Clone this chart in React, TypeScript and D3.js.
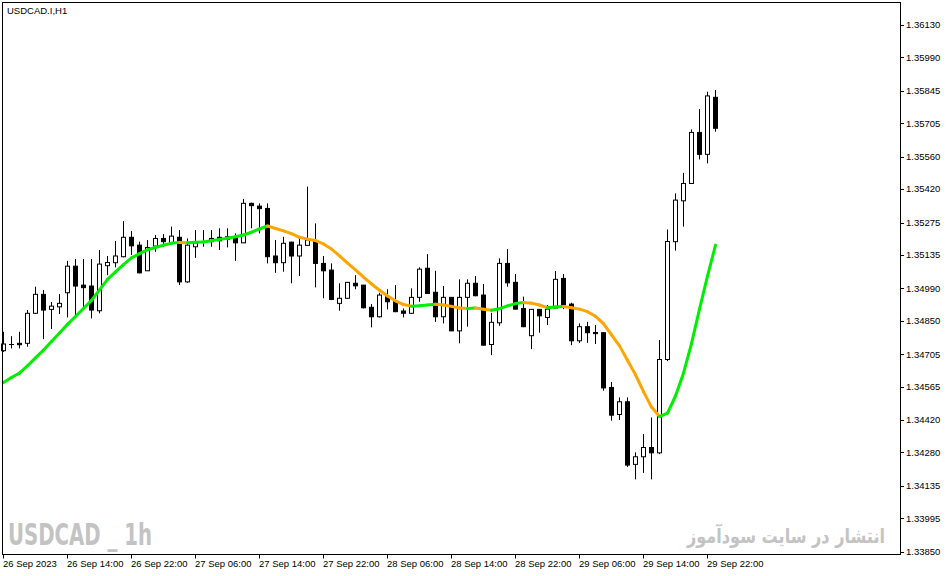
import React from "react";
import * as d3 from "d3";

const symbolLabel = "USDCAD.I,H1";
const watermarkLeft = "USDCAD _ 1h";
const watermarkRight = "انتشار در سایت سودآموز";

const opens = [
  1.34720, 1.34747, 1.34752, 1.34752, 1.34882, 1.34964, 1.34899, 1.34910, 1.34971, 1.35086,
  1.35004, 1.35000, 1.34893, 1.35088, 1.35101, 1.35127, 1.35211, 1.35177, 1.35066, 1.35173,
  1.35206, 1.35187, 1.35211, 1.35018, 1.35170, 1.35195, 1.35192, 1.35211, 1.35213, 1.35213,
  1.35187, 1.35358, 1.35346, 1.35336, 1.35130, 1.35101, 1.35190, 1.35130, 1.35176, 1.35195,
  1.35098, 1.35069, 1.34925, 1.34947, 1.35012, 1.35004, 1.34908, 1.34867, 1.34954, 1.34932,
  1.34892, 1.34882, 1.34951, 1.35077, 1.34973, 1.34867, 1.34951, 1.34806, 1.34951, 1.35012,
  1.34961, 1.34747, 1.34841, 1.35098, 1.35016, 1.34903, 1.34785, 1.34899, 1.34864, 1.34905,
  1.35033, 1.34922, 1.34763, 1.34824, 1.34799, 1.34798, 1.34561, 1.34444, 1.34499, 1.34228,
  1.34261, 1.34301, 1.34278, 1.34682, 1.35192, 1.35369, 1.35444, 1.35665, 1.35570, 1.35817,
];
const highs = [
  1.34802, 1.34783, 1.34802, 1.34896, 1.34997, 1.34983, 1.34931, 1.34965, 1.35109, 1.35117,
  1.35117, 1.35117, 1.35156, 1.35130, 1.35195, 1.35281, 1.35238, 1.35192, 1.35199, 1.35221,
  1.35225, 1.35257, 1.35242, 1.35206, 1.35242, 1.35242, 1.35242, 1.35250, 1.35250, 1.35228,
  1.35377, 1.35361, 1.35358, 1.35358, 1.35199, 1.35213, 1.35192, 1.35213, 1.35430, 1.35271,
  1.35130, 1.35098, 1.35012, 1.35017, 1.35047, 1.35005, 1.34922, 1.34971, 1.34986, 1.35004,
  1.34903, 1.34990, 1.35081, 1.35138, 1.35066, 1.35000, 1.34952, 1.35029, 1.35029, 1.35043,
  1.35009, 1.34884, 1.35120, 1.35160, 1.35052, 1.34954, 1.34900, 1.34900, 1.34918, 1.35065,
  1.35052, 1.34928, 1.34838, 1.34845, 1.34831, 1.34799, 1.34585, 1.34518, 1.34518, 1.34280,
  1.34359, 1.34431, 1.34766, 1.35245, 1.35401, 1.35490, 1.35678, 1.35766, 1.35841, 1.35849,
];
const lows = [
  1.34715, 1.34730, 1.34730, 1.34737, 1.34879, 1.34770, 1.34814, 1.34879, 1.34864, 1.34864,
  1.34899, 1.34860, 1.34882, 1.35047, 1.35081, 1.35124, 1.35134, 1.35055, 1.35065, 1.35148,
  1.35170, 1.35185, 1.35004, 1.35014, 1.35122, 1.35170, 1.35170, 1.35156, 1.35167, 1.35109,
  1.35186, 1.35250, 1.35228, 1.35098, 1.35057, 1.35062, 1.35012, 1.35043, 1.35174, 1.34994,
  1.34947, 1.34939, 1.34893, 1.34945, 1.34986, 1.34903, 1.34821, 1.34864, 1.34899, 1.34887,
  1.34864, 1.34879, 1.34932, 1.34966, 1.34845, 1.34838, 1.34805, 1.34752, 1.34824, 1.34956,
  1.34742, 1.34701, 1.34828, 1.34997, 1.34899, 1.34822, 1.34727, 1.34798, 1.34831, 1.34903,
  1.34900, 1.34744, 1.34754, 1.34754, 1.34749, 1.34547, 1.34417, 1.34420, 1.34217, 1.34163,
  1.34191, 1.34163, 1.34272, 1.34675, 1.35153, 1.35257, 1.35442, 1.35548, 1.35531, 1.35668,
];
const closes = [
  1.34749, 1.34748, 1.34746, 1.34882, 1.34964, 1.34896, 1.34913, 1.34925, 1.35086, 1.35000,
  1.34993, 1.34896, 1.35095, 1.35102, 1.35130, 1.35211, 1.35174, 1.35057, 1.35167, 1.35206,
  1.35192, 1.35216, 1.35018, 1.35177, 1.35187, 1.35194, 1.35206, 1.35196, 1.35202, 1.35187,
  1.35358, 1.35348, 1.35335, 1.35127, 1.35101, 1.35185, 1.35130, 1.35177, 1.35199, 1.35098,
  1.35066, 1.34942, 1.34947, 1.35016, 1.35001, 1.34906, 1.34867, 1.34961, 1.34932, 1.34889,
  1.34882, 1.34951, 1.35073, 1.34968, 1.34867, 1.34951, 1.34806, 1.34951, 1.35012, 1.34958,
  1.34744, 1.34843, 1.35098, 1.35014, 1.34900, 1.34824, 1.34899, 1.34871, 1.34900, 1.35029,
  1.34918, 1.34763, 1.34824, 1.34798, 1.34794, 1.34559, 1.34441, 1.34499, 1.34225, 1.34261,
  1.34301, 1.34278, 1.34682, 1.35193, 1.35372, 1.35444, 1.35665, 1.35570, 1.35823, 1.35683,
];
const movingAverage = [
  1.34582, 1.34604, 1.34623, 1.34655, 1.34689, 1.34723, 1.34760, 1.34797, 1.34834, 1.34868,
  1.34903, 1.34938, 1.34983, 1.35029, 1.35061, 1.35093, 1.35122, 1.35140, 1.35157, 1.35167,
  1.35177, 1.35185, 1.351890, 1.351877, 1.351895, 1.35191, 1.35196, 1.35202, 1.35207, 1.35213,
  1.35221, 1.35233, 1.35247, 1.35260, 1.35249, 1.35239, 1.35227, 1.35211, 1.35203, 1.35197,
  1.35182, 1.35160, 1.35131, 1.35099, 1.35070, 1.35039, 1.35009, 1.34982, 1.34957, 1.34936,
  1.34920, 1.34913, 1.34915, 1.34918, 1.34921, 1.34918, 1.34912, 1.34905, 1.34903, 1.34905,
  1.34900, 1.34895, 1.34902, 1.34914, 1.34924, 1.34929, 1.34926, 1.34918, 1.34906, 1.34909,
  1.34911, 1.34906, 1.34900, 1.34889, 1.34869, 1.34837, 1.34789, 1.34741, 1.34679, 1.34616,
  1.34543, 1.34476, 1.34435, 1.34450, 1.34524, 1.34623, 1.34751, 1.34900, 1.35043, 1.35177,
];

const priceTicks = [
  1.36130, 1.35990, 1.35845, 1.35705, 1.35560, 1.35420, 1.35275, 1.35135, 1.34990,
  1.34850, 1.34705, 1.34565, 1.34420, 1.34280, 1.34135, 1.33995, 1.33850,
];
const timeTickBars = [0, 8, 16, 24, 32, 40, 48, 56, 64, 72, 80, 88];
const timeTickLabels = [
  "26 Sep 2023", "26 Sep 14:00", "26 Sep 22:00", "27 Sep 06:00", "27 Sep 14:00",
  "27 Sep 22:00", "28 Sep 06:00", "28 Sep 14:00", "28 Sep 22:00", "29 Sep 06:00",
  "29 Sep 14:00", "29 Sep 22:00",
];

const FONT = "'Liberation Sans', Arial, sans-serif";
const UP = "#00ee00";
const DOWN = "#ffa500";

export default function App() {
  const W = 946, H = 576;
  const frameL = 2.5, frameT = 2.5, frameR = 900.5, frameB = 554.5;
  const x = d3.scaleLinear().domain([0, opens.length - 1]).range([3.5, 3.5 + 8 * (opens.length - 1)]);
  const y = d3.scaleLinear().domain([1.3385, 1.3613]).range([551.7, 25]);

  const candles = opens.map((o, i) => {
    const c = closes[i];
    const cx = x(i);
    const yo = y(o), yc = y(c);
    const top = Math.min(yo, yc), bot = Math.max(yo, yc);
    const bull = c >= o;
    return (
      <g key={i}>
        <line x1={cx} x2={cx} y1={y(highs[i])} y2={y(lows[i])} stroke="#000" strokeWidth={1} />
        {bot - top < 1 ? (
          <line x1={cx - 2.5} x2={cx + 2.5} y1={Math.round(top) + 0.5} y2={Math.round(top) + 0.5} stroke="#000" strokeWidth={1} />
        ) : (
          <rect x={cx - 2} width={4} y={top} height={bot - top} fill={bull ? "#fff" : "#000"} stroke="#000" strokeWidth={1} />
        )}
      </g>
    );
  });

  const maSegs = movingAverage.slice(1).map((v, j) => {
    const i = j + 1;
    const prev = movingAverage[i - 1];
    return (
      <line key={i} x1={x(i - 1)} y1={y(prev)} x2={x(i)} y2={y(v)}
        stroke={v >= prev ? UP : DOWN} strokeWidth={3} strokeLinecap="round" />
    );
  });

  return (
    <svg width={W} height={H} style={{ position: "absolute", left: 0, top: 0, background: "#fff" }}>
      <rect x={0} y={0} width={W} height={H} fill="#fff" />
      <text x={7} y={14} fontFamily={FONT} fontSize={9.5} fill="#000">{symbolLabel}</text>
      <text x={8} y={545} fontFamily="'DejaVu Sans', sans-serif" fontWeight="bold" fontSize={31}
        style={{ fontStretch: "condensed" }}
        fill="#c3c3c3" textLength={144} lengthAdjust="spacingAndGlyphs">{watermarkLeft}</text>
      <text x={687} y={543} fontFamily="'DejaVu Sans', sans-serif" fontWeight="bold" fontSize={20}
        fill="#c3c3c3" textLength={198} lengthAdjust="spacingAndGlyphs">{watermarkRight}</text>
      <g>{candles}</g>
      <g>{maSegs}</g>
      <rect x={frameL} y={frameT} width={frameR - frameL} height={frameB - frameT} fill="none" stroke="#000" strokeWidth={1} />
      <g>
        {priceTicks.map((p) => (
          <g key={p}>
            <line x1={frameR} x2={frameR + 3.5} y1={Math.round(y(p)) + 0.5} y2={Math.round(y(p)) + 0.5} stroke="#000" />
            <text x={906} y={y(p)} dy="0.35em" fontFamily={FONT} fontSize={9.5} fill="#000">{p.toFixed(5)}</text>
          </g>
        ))}
      </g>
      <g>
        {timeTickBars.map((b, i) => (
          <g key={b}>
            <line x1={x(b)} x2={x(b)} y1={frameB} y2={frameB + 4} stroke="#000" />
            <text x={x(b) - 0.5} y={567} fontFamily={FONT} fontSize={9.5} fill="#000">{timeTickLabels[i]}</text>
          </g>
        ))}
      </g>
    </svg>
  );
}
